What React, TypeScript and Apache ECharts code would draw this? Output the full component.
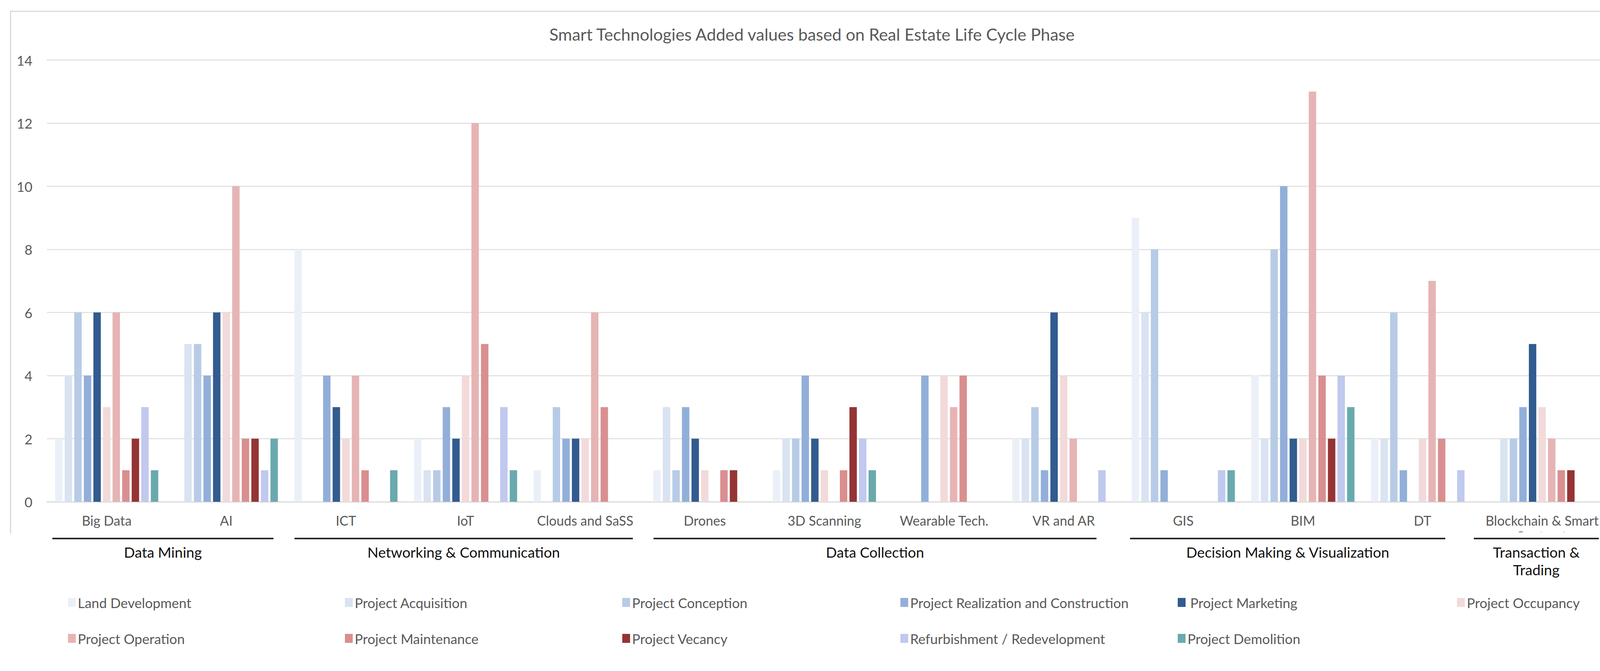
import React, { useEffect, useRef } from "react";
import * as echarts from "echarts";

// categories (technologies) on the x axis
const categories = [
  "Big Data",
  "AI",
  "ICT",
  "IoT",
  "Clouds and SaSS",
  "Drones",
  "3D Scanning",
  "Wearable Tech.",
  "VR and AR",
  "GIS",
  "BIM",
  "DT",
  "Blockchain & Smart Contracts",
];

// one array per life cycle phase, in category order
const landDevelopment = [2, 0, 8, 2, 1, 1, 1, 0, 2, 9, 4, 2, 0];
const projectAcquisition = [4, 5, 0, 1, 0, 3, 2, 0, 2, 6, 2, 2, 2];
const projectConception = [6, 5, 0, 1, 3, 1, 2, 0, 3, 8, 8, 6, 2];
const projectRealization = [4, 4, 4, 3, 2, 3, 4, 4, 1, 1, 10, 1, 3];
const projectMarketing = [6, 6, 3, 2, 2, 2, 2, 0, 6, 0, 2, 0, 5];
const projectOccupancy = [3, 6, 2, 4, 2, 1, 1, 4, 4, 0, 2, 2, 3];
const projectOperation = [6, 10, 4, 12, 6, 0, 0, 3, 2, 0, 13, 7, 2];
const projectMaintenance = [1, 2, 1, 5, 3, 1, 1, 4, 0, 0, 4, 2, 1];
const projectVecancy = [2, 2, 0, 0, 0, 1, 3, 0, 0, 0, 2, 0, 1];
const refurbishment = [3, 1, 0, 3, 0, 0, 2, 0, 1, 1, 4, 1, 0];
const projectDemolition = [1, 2, 1, 1, 0, 0, 1, 0, 0, 1, 3, 0, 0];

const seriesNames = [
  "Land Development",
  "Project Acquisition",
  "Project Conception",
  "Project Realization and Construction",
  "Project Marketing",
  "Project Occupancy",
  "Project Operation",
  "Project Maintenance",
  "Project Vecancy",
  "Refurbishment / Redevelopment",
  "Project Demolition",
];

const seriesValues = [
  landDevelopment,
  projectAcquisition,
  projectConception,
  projectRealization,
  projectMarketing,
  projectOccupancy,
  projectOperation,
  projectMaintenance,
  projectVecancy,
  refurbishment,
  projectDemolition,
];

const seriesColors = [
  "#EBF0F8",
  "#D9E3F2",
  "#B7CBE6",
  "#92AFD9",
  "#325B8F",
  "#F2DADA",
  "#E6B4B4",
  "#D98F8F",
  "#953434",
  "#C0C9EE",
  "#6AA9AD",
];

const yTicks = { min: 0, max: 14, interval: 2 };

// group brackets under the axis
const groupNames = [
  "Data Mining",
  "Networking & Communication",
  "Data Collection",
  "Decision Making & Visualization",
  "Transaction &\nTrading",
];
const groupLineX = [
  [134, 700],
  [754, 1620],
  [1673, 2807],
  [2893, 3700],
  [3773, 4093],
];

const legendCols = [174, 883, 1593, 2305, 3015, 3730];
const legendRows = [1524, 1616];

const FONT = "Lato, 'Open Sans', sans-serif";
const GREY = "#595959";

const App: React.FC = () => {
  const chartRef = useRef<HTMLDivElement>(null);

  useEffect(() => {
    if (!chartRef.current) return;
    const chart = echarts.init(chartRef.current, null, { renderer: "svg" });

    const graphics: any[] = [
      // chart frame (left, top, right edges)
      {
        type: "polyline",
        z: 1,
        silent: true,
        shape: {
          points: [
            [27, 1365],
            [27, 29],
            [4127, 29],
            [4127, 1365],
          ],
        },
        style: { stroke: "#D9D9D9", lineWidth: 3, fill: "none" },
      },
      // clip the second line of the last category label, as the frame does
      {
        type: "rect",
        z: 100,
        silent: true,
        shape: { x: 3795, y: 1362, width: 326, height: 45 },
        style: { fill: "#ffffff" },
      },
    ];

    groupNames.forEach((name, i) => {
      const [x1, x2] = groupLineX[i];
      graphics.push({
        type: "line",
        z: 110,
        silent: true,
        shape: { x1, y1: 1378, x2, y2: 1378 },
        style: { stroke: "#262626", lineWidth: 4 },
      });
      graphics.push({
        type: "text",
        z: 110,
        silent: true,
        x: (x1 + x2) / 2,
        y: 1390,
        style: {
          text: name,
          fill: "#111111",
          font: `37px ${FONT}`,
          lineHeight: 45,
          textAlign: "center",
          textVerticalAlign: "top",
          align: "center",
          verticalAlign: "top",
        },
      });
    });

    const legends = seriesNames.map((name, i) => ({
      data: [name],
      left: legendCols[i % 6],
      top: legendRows[Math.floor(i / 6)],
      padding: 0,
      itemWidth: 20,
      itemHeight: 23,
      icon: "rect",
      selectedMode: false,
      textStyle: {
        fontSize: 35,
        color: GREY,
        fontFamily: FONT,
        // the marketing entry has an extra space before its text
        padding: i === 4 ? [0, 0, 0, 7] : 0,
      },
    }));

    const option = {
      animation: false,
      backgroundColor: "#ffffff",
      color: seriesColors,
      title: {
        text: "Smart Technologies Added values based on Real Estate Life Cycle Phase",
        left: "center",
        top: 61,
        textStyle: {
          fontSize: 43,
          fontWeight: "normal",
          color: GREY,
          fontFamily: FONT,
        },
      },
      legend: legends,
      grid: {
        left: 120,
        right: 56,
        top: 153.5,
        bottom: 433,
      },
      xAxis: {
        type: "category",
        data: categories,
        axisLine: { lineStyle: { color: "#D9D9D9", width: 2.5 } },
        axisTick: { show: false },
        axisLabel: {
          interval: 0,
          margin: 27,
          fontSize: 34,
          lineHeight: 40,
          color: GREY,
          fontFamily: FONT,
          width: 292,
          overflow: "break",
        },
      },
      yAxis: {
        type: "value",
        min: yTicks.min,
        max: yTicks.max,
        interval: yTicks.interval,
        axisLine: { show: false },
        axisTick: { show: false },
        splitLine: { lineStyle: { color: "#DEDEDE", width: 2.5 } },
        axisLabel: {
          margin: 37,
          fontSize: 35,
          color: GREY,
          fontFamily: FONT,
        },
      },
      series: seriesNames.map((name, i) => ({
        name,
        type: "bar",
        data: seriesValues[i],
        barWidth: 19,
        barGap: "29%",
        itemStyle: { color: seriesColors[i] },
      })),
      graphic: graphics,
    };

    chart.setOption(option);

    return () => {
      chart.dispose();
    };
  }, []);

  return (
    <div
      ref={chartRef}
      style={{ position: "fixed", left: 0, top: 0, width: 4157, height: 1717 }}
    />
  );
};

export default App;
